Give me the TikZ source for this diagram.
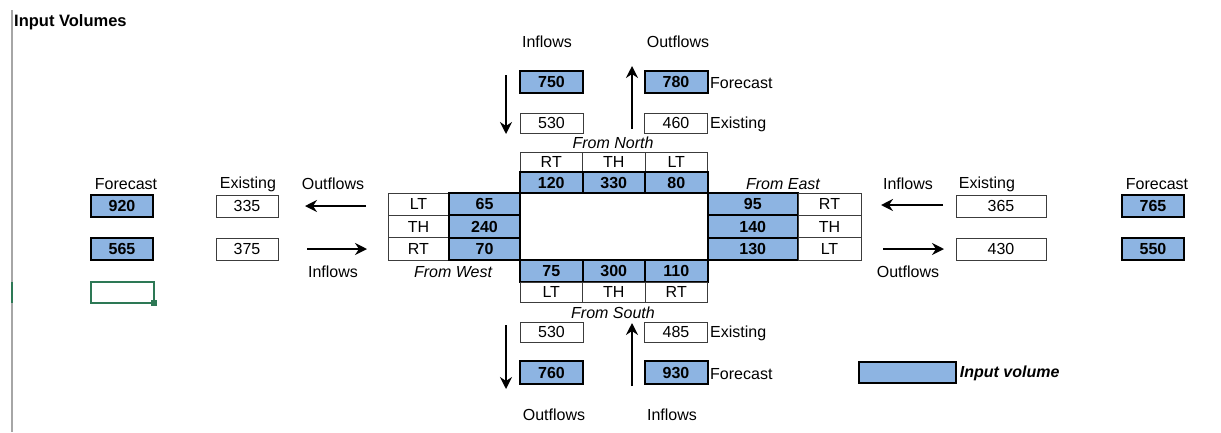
\documentclass[tikz,border=0pt]{standalone}
\usepackage{fontspec}
\setmainfont{Liberation Sans}
\usetikzlibrary{arrows.meta}
\definecolor{blu}{RGB}{141,180,226}
\definecolor{xlgreen}{RGB}{45,120,85}
\definecolor{cellline}{RGB}{60,60,60}
\tikzset{
  x=1pt,y=-1pt,
  every node/.style={font=\fontsize{16}{18}\selectfont, inner sep=0pt},
  inbox/.style={draw=black, fill=blu, line width=2pt, font=\fontsize{16}{18}\selectfont\bfseries},
  exbox/.style={draw=cellline, fill=white, line width=1pt},
  lbl/.style={},
  ilbl/.style={font=\fontsize{16}{18}\selectfont\itshape},
  flow/.style={line width=2.2pt, -{Stealth[length=12pt,width=12pt,inset=4pt]}},
}
\begin{document}
\begin{tikzpicture}
\useasboundingbox (0,0) rectangle (1221,432);
% gridline
\draw[line width=1.5pt, gray!70] (12,10) -- (12,432);
\draw[line width=2pt, xlgreen] (12,282) -- (12,303);
% title
\node[anchor=west, font=\fontsize{16.5}{18}\selectfont\bfseries] (title) at (14,22) {Input Volumes};

% ---------- North ----------
\node[lbl] (nin) at (547,42) {Inflows};
\node[lbl] (nout) at (678,42) {Outflows};
\node[inbox, minimum width=63pt, minimum height=22pt] (n750) at (551.5,82) {750};
\node[inbox, minimum width=63pt, minimum height=22pt] (n780) at (676,82) {780};
\node[anchor=west] (nfc) at (710,83) {Forecast};
\node[exbox, minimum width=63pt, minimum height=20pt] (n530) at (551.5,123) {530};
\node[exbox, minimum width=63pt, minimum height=20pt] (n460) at (676,123) {460};
\node[anchor=west] (nex) at (710,124.5) {Existing};
\coordinate (nd1) at (506,75); \coordinate (nd2) at (506,134);
\coordinate (nu1) at (632,129); \coordinate (nu2) at (632,66);
\draw[flow] (nd1) -- (nd2);
\draw[flow] (nu1) -- (nu2);
\node[ilbl] (fnorth) at (613,143) {From North};
\node[exbox, minimum width=62.5pt, minimum height=20pt] (nRT) at (551.25,162) {RT};
\node[exbox, minimum width=62.5pt, minimum height=20pt] (nTH) at (613.75,162) {TH};
\node[exbox, minimum width=62.5pt, minimum height=20pt] (nLT) at (676.25,162) {LT};

% ---------- center ----------
\node[exbox, minimum width=187.5pt, minimum height=67pt] (ctr) at (613.75,226.5) {};

% ---------- West ----------
\node[exbox, minimum width=61pt, minimum height=22.33pt] (wLTl) at (418.5,204.17) {LT};
\node[exbox, minimum width=61pt, minimum height=22.33pt] (wTHl) at (418.5,226.5) {TH};
\node[exbox, minimum width=61pt, minimum height=22.33pt] (wRTl) at (418.5,248.83) {RT};
\node[inbox, minimum width=71pt, minimum height=22.33pt] (w65) at (484.5,204.17) {65};
\node[inbox, minimum width=71pt, minimum height=22.33pt] (w240) at (484.5,226.5) {240};
\node[inbox, minimum width=71pt, minimum height=22.33pt] (w70) at (484.5,248.83) {70};
\node[ilbl] (fwest) at (453,272) {From West};

% ---------- East ----------
\node[inbox, minimum width=90.5pt, minimum height=22.33pt] (e95) at (752.75,204.17) {95};
\node[inbox, minimum width=90.5pt, minimum height=22.33pt] (e140) at (752.75,226.5) {140};
\node[inbox, minimum width=90.5pt, minimum height=22.33pt] (e130) at (752.75,248.83) {130};
\node[exbox, minimum width=63pt, minimum height=22.33pt] (eRT) at (829.5,204.17) {RT};
\node[exbox, minimum width=63pt, minimum height=22.33pt] (eTH) at (829.5,226.5) {TH};
\node[exbox, minimum width=63pt, minimum height=22.33pt] (eLT) at (829.5,248.83) {LT};
\node[ilbl] (feast) at (783,184) {From East};

% north volume row
\node[inbox, minimum width=62.5pt, minimum height=21pt] (n120) at (551.25,182.5) {120};
\node[inbox, minimum width=62.5pt, minimum height=21pt] (n330) at (613.75,182.5) {330};
\node[inbox, minimum width=62.5pt, minimum height=21pt] (n80) at (676.25,182.5) {80};

% ---------- South ----------
\node[inbox, minimum width=62.5pt, minimum height=22pt] (s75) at (551.25,271) {75};
\node[inbox, minimum width=62.5pt, minimum height=22pt] (s300) at (613.75,271) {300};
\node[inbox, minimum width=62.5pt, minimum height=22pt] (s110) at (676.25,271) {110};
\node[exbox, minimum width=62.5pt, minimum height=20pt] (sLT) at (551.25,292) {LT};
\node[exbox, minimum width=62.5pt, minimum height=20pt] (sTH) at (613.75,292) {TH};
\node[exbox, minimum width=62.5pt, minimum height=20pt] (sRT) at (676.25,292) {RT};
\node[ilbl] (fsouth) at (613,313) {From South};
\node[exbox, minimum width=63pt, minimum height=20pt] (s530) at (551.5,332) {530};
\node[exbox, minimum width=63pt, minimum height=20pt] (s485) at (676,332) {485};
\node[anchor=west] (sex) at (710,333.5) {Existing};
\node[inbox, minimum width=63pt, minimum height=23pt] (s760) at (551.5,372.5) {760};
\node[inbox, minimum width=63pt, minimum height=23pt] (s930) at (676,372.5) {930};
\node[anchor=west] (sfc) at (710,374) {Forecast};
\coordinate (sd1) at (506,325); \coordinate (sd2) at (506,389);
\coordinate (su1) at (632,386); \coordinate (su2) at (632,323);
\draw[flow] (sd1) -- (sd2);
\draw[flow] (su1) -- (su2);
\node[lbl] (sout) at (554,415) {Outflows};
\node[lbl] (sin) at (672,415) {Inflows};

% ---------- West outer ----------
\node[lbl] (wfcl) at (126,184) {Forecast};
\node[lbl] (wexl) at (248,184) {Existing};
\node[lbl] (woutl) at (333,184) {Outflows};
\node[lbl] (winl) at (333,272) {Inflows};
\node[inbox, minimum width=62pt, minimum height=22pt] (w920) at (122,206) {920};
\node[inbox, minimum width=62pt, minimum height=22pt] (w565) at (122,249) {565};
\node[exbox, minimum width=62pt, minimum height=22pt] (w335) at (247,206) {335};
\node[exbox, minimum width=62pt, minimum height=22pt] (w375) at (247,249) {375};
\coordinate (wl1) at (366,206); \coordinate (wl2) at (305,206);
\coordinate (wr1) at (307,249); \coordinate (wr2) at (367,249);
\draw[flow] (wl1) -- (wl2);
\draw[flow] (wr1) -- (wr2);
% selected cell
\node[draw=xlgreen, line width=2pt, minimum width=63pt, minimum height=21pt] (sel) at (122.5,292.5) {};
\fill[xlgreen] (151,299.5) rectangle (157,305.5);

% ---------- East outer ----------
\node[lbl] (einl) at (908,184) {Inflows};
\node[lbl] (eexl) at (987,184) {Existing};
\node[lbl] (efcl) at (1157,184) {Forecast};
\node[lbl] (eoutl) at (908,272) {Outflows};
\node[exbox, minimum width=90pt, minimum height=22pt] (e365) at (1001,206) {365};
\node[exbox, minimum width=90pt, minimum height=22pt] (e430) at (1001,249) {430};
\node[inbox, minimum width=62pt, minimum height=22pt] (e765) at (1153,206) {765};
\node[inbox, minimum width=62pt, minimum height=22pt] (e550) at (1153,249) {550};
\coordinate (el1) at (943,205); \coordinate (el2) at (881,205);
\coordinate (er1) at (883,249); \coordinate (er2) at (944,249);
\draw[flow] (el1) -- (el2);
\draw[flow] (er1) -- (er2);

% ---------- legend ----------
\node[inbox, minimum width=97pt, minimum height=21pt] (leg) at (907.5,372.5) {};
\node[anchor=west, font=\fontsize{16}{18}\selectfont\bfseries\itshape] (legt) at ([yshift=-1pt]leg.east) {\,Input volume};
\end{tikzpicture}
\end{document}
